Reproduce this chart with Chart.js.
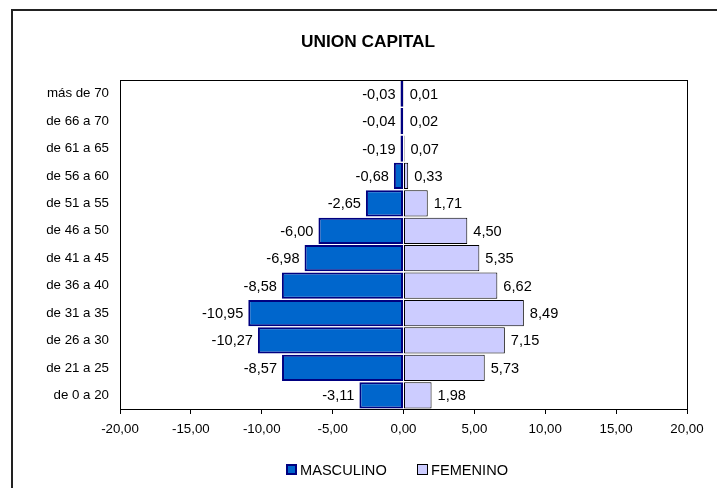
<!DOCTYPE html>
<html lang="es">
<head>
  <meta charset="UTF-8" />
  <title>Union Capital</title>
  <style>
    body { margin: 0; padding: 0; background: #fff; }
    #wrap { width: 717px; height: 488px; }
  </style>
  <script src="https://cdn.jsdelivr.net/npm/chart.js"></script>
</head>
<body>
  <div id="wrap"><canvas id="chart" width="717" height="488"></canvas></div>

  <script>
    // age groups, top to bottom
    const categories = [
      'más de 70', 'de 66 a 70', 'de 61 a 65', 'de 56 a 60', 'de 51 a 55', 'de 46 a 50',
      'de 41 a 45', 'de 36 a 40', 'de 31 a 35', 'de 26 a 30', 'de 21 a 25', 'de 0 a 20'
    ];
    const masculino = [-0.03, -0.04, -0.19, -0.68, -2.65, -6.00, -6.98, -8.58, -10.95, -10.27, -8.57, -3.11];
    const femenino = [0.01, 0.02, 0.07, 0.33, 1.71, 4.50, 5.35, 6.62, 8.49, 7.15, 5.73, 1.98];
    const xTicks = [-20, -15, -10, -5, 0, 5, 10, 15, 20];
    const title = 'UNION CAPITAL';

    const FONT = '"Liberation Sans", Arial, sans-serif';
    const fmt = v => v.toFixed(2).replace('.', ',');

    // value labels next to each bar end
    const valueLabels = {
      id: 'valueLabels',
      afterDatasetsDraw(chart) {
        const ctx = chart.ctx;
        ctx.save();
        ctx.font = '14.6px ' + FONT;
        ctx.fillStyle = '#000';
        ctx.textBaseline = 'middle';
        chart.data.datasets.forEach((ds, i) => {
          chart.getDatasetMeta(i).data.forEach((bar, j) => {
            const v = ds.data[j];
            if (v < 0) {
              ctx.textAlign = 'right';
              ctx.fillText(fmt(v), bar.x - 5, bar.y + 1);
            } else {
              ctx.textAlign = 'left';
              ctx.fillText(fmt(v), bar.x + 6, bar.y + 1);
            }
          });
        });
        ctx.restore();
      }
    };

    // plot frame, outer chart border, title and legend
    const frame = {
      id: 'frame',
      afterDraw(chart) {
        const ctx = chart.ctx;
        const a = chart.chartArea;
        ctx.save();
        ctx.strokeStyle = '#000';
        ctx.lineWidth = 1;
        ctx.strokeRect(a.left + 0.5, a.top + 0.5, a.right - a.left, a.bottom - a.top);
        ctx.lineWidth = 2;
        ctx.strokeStyle = '#222';
        ctx.strokeRect(12, 10, 740, 520);

        // title
        ctx.fillStyle = '#000';
        ctx.font = 'bold 17.3px ' + FONT;
        ctx.textAlign = 'center';
        ctx.textBaseline = 'middle';
        ctx.fillText(title, 368, 42);

        // legend
        const y = 470;
        ctx.font = '14.6px ' + FONT;
        ctx.textAlign = 'left';
        const items = [
          { x: 286, ds: chart.data.datasets[0] },
          { x: 417, ds: chart.data.datasets[1] }
        ];
        items.forEach(it => {
          const bw = it.ds.borderWidth;
          ctx.fillStyle = it.ds.backgroundColor;
          ctx.fillRect(it.x, y - 6, 11, 11);
          ctx.lineWidth = bw;
          ctx.strokeStyle = it.ds.borderColor;
          ctx.strokeRect(it.x + bw / 2, y - 6 + bw / 2, 11 - bw, 11 - bw);
          ctx.fillStyle = '#000';
          ctx.fillText(it.ds.label, it.x + 14, y + 1);
        });
        ctx.restore();
      }
    };

    new Chart(document.getElementById('chart'), {
      type: 'bar',
      data: {
        labels: categories,
        datasets: [{
          label: 'MASCULINO',
          data: masculino,
          backgroundColor: '#0066CC',
          borderColor: '#000080',
          borderWidth: 2,
          borderSkipped: false,
          minBarLength: 3,
          barPercentage: 0.96,
          categoryPercentage: 1
        }, {
          label: 'FEMENINO',
          data: femenino,
          backgroundColor: '#CCCCFF',
          borderColor: '#000000',
          borderWidth: 1,
          borderSkipped: false,
          barPercentage: 0.96,
          categoryPercentage: 1
        }]
      },
      options: {
        indexAxis: 'y',
        responsive: false,
        animation: false,
        layout: { padding: { left: 0, right: 30, top: 80, bottom: 0 } },
        plugins: {
          legend: { display: false },
          tooltip: { enabled: false },
          title: { display: false }
        },
        scales: {
          x: {
            stacked: true,
            min: -20,
            max: 20,
            afterBuildTicks: s => { s.ticks = xTicks.map(v => ({ value: v })); },
            afterFit: s => { s.height = 79; },
            ticks: {
              color: '#000',
              font: { family: FONT, size: 13.3 },
              padding: 7,
              maxRotation: 0,
              callback: v => fmt(v)
            },
            grid: { drawOnChartArea: false, drawTicks: true, tickLength: 5, color: '#000' },
            border: { display: true, color: '#000', width: 1 }
          },
          y: {
            stacked: true,
            afterFit: s => { s.width = 120; },
            ticks: {
              color: '#000',
              font: { family: FONT, size: 13.3 },
              padding: 11
            },
            grid: { display: false, drawTicks: false },
            border: { display: true, color: '#000', width: 1 }
          }
        }
      },
      plugins: [valueLabels, frame]
    });
  </script>
</body>
</html>
